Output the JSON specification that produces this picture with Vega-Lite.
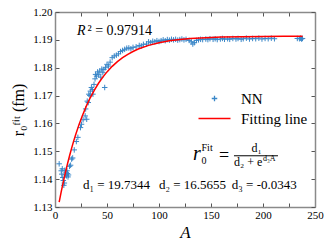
{
  "$schema": "https://vega.github.io/schema/vega-lite/v6.json",
  "width": 260,
  "height": 195,
  "autosize": "none",
  "padding": {"left": 55, "top": 12, "right": 17, "bottom": 42},
  "config": {
    "font": "Liberation Serif",
    "view": {"stroke": null},
    "axis": {
      "grid": false,
      "domainColor": "#8a8a8a",
      "domainWidth": 1.5,
      "tickColor": "#555",
      "tickWidth": 1,
      "tickSize": -4,
      "labelFont": "Liberation Serif",
      "labelFontSize": 11,
      "labelColor": "#000",
      "titleFont": "Liberation Serif",
      "titleColor": "#000",
      "titleFontWeight": "normal"
    }
  },
  "resolve": {"axis": {"x": "independent", "y": "independent"}},
  "layer": [
    {
      "data": {"values": [
        {"A":4,"r":1.1455,"series":"NN"},{"A":6,"r":1.1430,"series":"NN"},{"A":6.5,"r":1.1418,"series":"NN"},{"A":7,"r":1.1437,"series":"NN"},{"A":7.5,"r":1.1406,"series":"NN"},{"A":8,"r":1.1395,"series":"NN"},{"A":8.5,"r":1.1378,"series":"NN"},{"A":9,"r":1.1386,"series":"NN"},{"A":9.5,"r":1.1432,"series":"NN"},{"A":10,"r":1.1418,"series":"NN"},{"A":10.5,"r":1.1425,"series":"NN"},{"A":11,"r":1.1412,"series":"NN"},{"A":11.5,"r":1.1430,"series":"NN"},{"A":12,"r":1.1420,"series":"NN"},{"A":12.5,"r":1.1408,"series":"NN"},{"A":13,"r":1.1415,"series":"NN"},{"A":14,"r":1.1446,"series":"NN"},{"A":15,"r":1.1450,"series":"NN"},{"A":16,"r":1.1472,"series":"NN"},{"A":17,"r":1.1476,"series":"NN"},{"A":18.5,"r":1.1505,"series":"NN"},{"A":20.5,"r":1.1535,"series":"NN"},{"A":22,"r":1.1550,"series":"NN"},{"A":24.5,"r":1.1585,"series":"NN"},{"A":25.5,"r":1.1597,"series":"NN"},{"A":27,"r":1.1613,"series":"NN"},{"A":29,"r":1.1627,"series":"NN"},{"A":29.5,"r":1.1652,"series":"NN"},{"A":30.5,"r":1.1615,"series":"NN"},{"A":31,"r":1.1680,"series":"NN"},{"A":32,"r":1.1675,"series":"NN"},{"A":32.5,"r":1.1705,"series":"NN"},{"A":33.5,"r":1.1700,"series":"NN"},{"A":34,"r":1.1716,"series":"NN"},{"A":35,"r":1.1729,"series":"NN"},{"A":36,"r":1.1722,"series":"NN"},{"A":36.5,"r":1.1705,"series":"NN"},{"A":37.5,"r":1.1740,"series":"NN"},{"A":38.5,"r":1.1760,"series":"NN"},{"A":39,"r":1.1776,"series":"NN"},{"A":40,"r":1.1770,"series":"NN"},{"A":41,"r":1.1785,"series":"NN"},{"A":42,"r":1.1775,"series":"NN"},{"A":43,"r":1.1788,"series":"NN"},{"A":44,"r":1.1766,"series":"NN"},{"A":45,"r":1.1795,"series":"NN"},{"A":46,"r":1.1782,"series":"NN"},{"A":47,"r":1.1794,"series":"NN"},{"A":47.8,"r":1.1729,"series":"NN"},{"A":48.5,"r":1.1800,"series":"NN"},{"A":50,"r":1.1812,"series":"NN"},{"A":51.5,"r":1.1806,"series":"NN"},{"A":53,"r":1.1820,"series":"NN"},{"A":55,"r":1.1836,"series":"NN"},{"A":57,"r":1.1842,"series":"NN"},{"A":59,"r":1.1845,"series":"NN"},{"A":61,"r":1.1850,"series":"NN"},{"A":63,"r":1.1858,"series":"NN"},{"A":65,"r":1.1862,"series":"NN"},{"A":67,"r":1.1866,"series":"NN"},{"A":69,"r":1.1870,"series":"NN"},{"A":71,"r":1.1871,"series":"NN"},{"A":73,"r":1.1868,"series":"NN"},{"A":75,"r":1.1873,"series":"NN"},{"A":78,"r":1.1875,"series":"NN"},{"A":81,"r":1.1880,"series":"NN"},{"A":83,"r":1.1878,"series":"NN"},{"A":85,"r":1.1884,"series":"NN"},{"A":88,"r":1.1885,"series":"NN"},{"A":90,"r":1.1893,"series":"NN"},{"A":92,"r":1.1890,"series":"NN"},{"A":94,"r":1.1895,"series":"NN"},{"A":96,"r":1.1893,"series":"NN"},{"A":98,"r":1.1897,"series":"NN"},{"A":100,"r":1.1894,"series":"NN"},{"A":102,"r":1.1897,"series":"NN"},{"A":104,"r":1.1900,"series":"NN"},{"A":106,"r":1.1897,"series":"NN"},{"A":108,"r":1.1901,"series":"NN"},{"A":110,"r":1.1899,"series":"NN"},{"A":112,"r":1.1902,"series":"NN"},{"A":114,"r":1.1900,"series":"NN"},{"A":116,"r":1.1902,"series":"NN"},{"A":118,"r":1.1899,"series":"NN"},{"A":120,"r":1.1901,"series":"NN"},{"A":122,"r":1.1903,"series":"NN"},{"A":124,"r":1.1900,"series":"NN"},{"A":126,"r":1.1902,"series":"NN"},{"A":129,"r":1.1898,"series":"NN"},{"A":131,"r":1.1893,"series":"NN"},{"A":132.5,"r":1.1885,"series":"NN"},{"A":134,"r":1.1890,"series":"NN"},{"A":136,"r":1.1898,"series":"NN"},{"A":138,"r":1.1900,"series":"NN"},{"A":140,"r":1.1902,"series":"NN"},{"A":142,"r":1.1901,"series":"NN"},{"A":145,"r":1.1903,"series":"NN"},{"A":147,"r":1.1901,"series":"NN"},{"A":149,"r":1.1904,"series":"NN"},{"A":152,"r":1.1902,"series":"NN"},{"A":154,"r":1.1904,"series":"NN"},{"A":156,"r":1.1901,"series":"NN"},{"A":159,"r":1.1903,"series":"NN"},{"A":161,"r":1.1905,"series":"NN"},{"A":163,"r":1.1902,"series":"NN"},{"A":166,"r":1.1904,"series":"NN"},{"A":168,"r":1.1902,"series":"NN"},{"A":171,"r":1.1905,"series":"NN"},{"A":174,"r":1.1903,"series":"NN"},{"A":176,"r":1.1905,"series":"NN"},{"A":179,"r":1.1902,"series":"NN"},{"A":181,"r":1.1904,"series":"NN"},{"A":184,"r":1.1906,"series":"NN"},{"A":187,"r":1.1903,"series":"NN"},{"A":190,"r":1.1905,"series":"NN"},{"A":193,"r":1.1904,"series":"NN"},{"A":196,"r":1.1906,"series":"NN"},{"A":199,"r":1.1903,"series":"NN"},{"A":202,"r":1.1905,"series":"NN"},{"A":205,"r":1.1904,"series":"NN"},{"A":208,"r":1.1906,"series":"NN"},{"A":211,"r":1.1904,"series":"NN"},{"A":233,"r":1.1905,"series":"NN"},{"A":235,"r":1.1904,"series":"NN"},{"A":236,"r":1.1906,"series":"NN"},{"A":237,"r":1.1903,"series":"NN"},{"A":238,"r":1.1905,"series":"NN"}
      ]},
      "mark": {"type": "point", "filled": false, "size": 100, "strokeWidth": 1, "opacity": 1},
      "encoding": {
        "x": {"field": "A", "type": "quantitative", "scale": {"domain": [0, 250], "nice": false},
              "axis": {"orient": "bottom", "values": [0,25,50,75,100,125,150,175,200,225,250], "labelExpr": "datum.value % 50 === 0 ? datum.label : ''", "labelPadding": 6, "title": "A", "titleFontStyle": "italic", "titleFontSize": 17, "titlePadding": 4, "labelFlush": false}},
        "y": {"field": "r", "type": "quantitative", "scale": {"domain": [1.13, 1.2], "nice": false, "zero": false},
              "axis": {"orient": "left", "values": [1.13,1.14,1.15,1.16,1.17,1.18,1.19,1.2], "format": ".2f", "labelPadding": 7, "title": "r₀ᶠⁱᵗ (fm)", "titleFontSize": 16, "titlePadding": 6}},
        "color": {"field": "series", "type": "nominal", "scale": {"domain": ["NN", "Fitting line"], "range": ["#3a87c8", "#ff0000"]},
                  "legend": {"orient": "none", "legendX": 152, "legendY": 79, "title": null, "labelFont": "Liberation Serif", "labelFontSize": 15, "symbolSize": 100, "labelOffset": 19, "rowPadding": 4, "padding": 0, "symbolStrokeWidth": 1.3}},
        "shape": {"field": "series", "type": "nominal", "scale": {"domain": ["NN", "Fitting line"], "range": ["M-0.55,0L0.55,0M0,-0.55L0,0.55", "M-3.2,0L3.2,0"]},
                  "legend": {"orient": "none", "legendX": 152, "legendY": 79, "title": null, "labelFont": "Liberation Serif", "labelFontSize": 15, "symbolSize": 100, "labelOffset": 19, "rowPadding": 4, "padding": 0, "symbolStrokeWidth": 1.3}}
      }
    },
    {
      "data": {"values": [
        {"A":4,"r":1.13173,"series":"Fitting line"},{"A":5,"r":1.13364,"series":"Fitting line"},{"A":6,"r":1.13550,"series":"Fitting line"},{"A":8,"r":1.13904,"series":"Fitting line"},{"A":10,"r":1.14236,"series":"Fitting line"},{"A":12,"r":1.14547,"series":"Fitting line"},{"A":14,"r":1.14841,"series":"Fitting line"},{"A":16,"r":1.15115,"series":"Fitting line"},{"A":18,"r":1.15373,"series":"Fitting line"},{"A":20,"r":1.15614,"series":"Fitting line"},{"A":23,"r":1.15948,"series":"Fitting line"},{"A":26,"r":1.16252,"series":"Fitting line"},{"A":30,"r":1.16613,"series":"Fitting line"},{"A":34,"r":1.16930,"series":"Fitting line"},{"A":38,"r":1.17207,"series":"Fitting line"},{"A":42,"r":1.17450,"series":"Fitting line"},{"A":46,"r":1.17663,"series":"Fitting line"},{"A":50,"r":1.17850,"series":"Fitting line"},{"A":55,"r":1.18049,"series":"Fitting line"},{"A":60,"r":1.18219,"series":"Fitting line"},{"A":65,"r":1.18360,"series":"Fitting line"},{"A":70,"r":1.18482,"series":"Fitting line"},{"A":75,"r":1.18583,"series":"Fitting line"},{"A":80,"r":1.18670,"series":"Fitting line"},{"A":90,"r":1.18803,"series":"Fitting line"},{"A":100,"r":1.18898,"series":"Fitting line"},{"A":110,"r":1.18964,"series":"Fitting line"},{"A":120,"r":1.19013,"series":"Fitting line"},{"A":130,"r":1.19047,"series":"Fitting line"},{"A":140,"r":1.19071,"series":"Fitting line"},{"A":160,"r":1.19100,"series":"Fitting line"},{"A":180,"r":1.19115,"series":"Fitting line"},{"A":200,"r":1.19122,"series":"Fitting line"},{"A":220,"r":1.19126,"series":"Fitting line"},{"A":238,"r":1.19128,"series":"Fitting line"}
      ]},
      "mark": {"type": "line", "strokeWidth": 1.5},
      "encoding": {
        "x": {"field": "A", "type": "quantitative", "axis": {"orient": "top", "values": [0,25,50,75,100,125,150,175,200,225,250], "labels": false, "title": null}},
        "y": {"field": "r", "type": "quantitative", "axis": {"orient": "right", "values": [1.13,1.14,1.15,1.16,1.17,1.18,1.19,1.2], "labels": false, "title": null}},
        "color": {"field": "series", "type": "nominal", "scale": {"domain": ["NN", "Fitting line"], "range": ["#3a87c8", "#ff0000"]},
                  "legend": {"orient": "none", "legendX": 152, "legendY": 79, "title": null, "labelFont": "Liberation Serif", "labelFontSize": 15, "symbolSize": 100, "labelOffset": 19, "rowPadding": 4, "padding": 0, "symbolStrokeWidth": 1.3}}
      }
    },
    {
      "data": {"values": [{}]},
      "mark": {"type": "text", "text": "R", "fontStyle": "italic", "fontSize": 14, "align": "left", "baseline": "alphabetic"},
      "encoding": {"x": {"datum": 21.2, "type": "quantitative", "axis": null}, "y": {"datum": 1.19179, "type": "quantitative", "axis": null}}
    },
    {
      "data": {"values": [{}]},
      "mark": {"type": "text", "text": "² = 0.97914", "fontSize": 14, "align": "left", "baseline": "alphabetic"},
      "encoding": {"x": {"datum": 31.2, "type": "quantitative", "axis": null}, "y": {"datum": 1.19179, "type": "quantitative", "axis": null}}
    },
    {
      "data": {"values": [{}]},
      "mark": {"type": "text", "text": "d₁ = 19.7344", "fontSize": 13, "align": "left", "baseline": "alphabetic"},
      "encoding": {"x": {"datum": 26.9, "type": "quantitative", "axis": null}, "y": {"datum": 1.13643, "type": "quantitative", "axis": null}}
    },
    {
      "data": {"values": [{}]},
      "mark": {"type": "text", "text": "d₂ = 16.5655", "fontSize": 13, "align": "left", "baseline": "alphabetic"},
      "encoding": {"x": {"datum": 100.0, "type": "quantitative", "axis": null}, "y": {"datum": 1.13643, "type": "quantitative", "axis": null}}
    },
    {
      "data": {"values": [{}]},
      "mark": {"type": "text", "text": "d₃ = -0.0343", "fontSize": 13, "align": "left", "baseline": "alphabetic"},
      "encoding": {"x": {"datum": 170.0, "type": "quantitative", "axis": null}, "y": {"datum": 1.13643, "type": "quantitative", "axis": null}}
    },
    {
      "data": {"values": [{}]},
      "mark": {"type": "text", "text": "r", "fontStyle": "italic", "fontSize": 20, "align": "left", "baseline": "alphabetic"},
      "encoding": {"x": {"datum": 132.7, "type": "quantitative", "axis": null}, "y": {"datum": 1.14679, "type": "quantitative", "axis": null}}
    },
    {
      "data": {"values": [{}]},
      "mark": {"type": "text", "text": "Fit", "fontSize": 10, "align": "left", "baseline": "alphabetic"},
      "encoding": {"x": {"datum": 140.9, "type": "quantitative", "axis": null}, "y": {"datum": 1.15018, "type": "quantitative", "axis": null}}
    },
    {
      "data": {"values": [{}]},
      "mark": {"type": "text", "text": "0", "fontSize": 10, "align": "left", "baseline": "alphabetic"},
      "encoding": {"x": {"datum": 140.9, "type": "quantitative", "axis": null}, "y": {"datum": 1.14554, "type": "quantitative", "axis": null}}
    },
    {
      "data": {"values": [{}]},
      "mark": {"type": "text", "text": "=", "fontSize": 18, "align": "left", "baseline": "alphabetic"},
      "encoding": {"x": {"datum": 157.7, "type": "quantitative", "axis": null}, "y": {"datum": 1.14643, "type": "quantitative", "axis": null}}
    },
    {
      "data": {"values": [{}]},
      "mark": {"type": "text", "text": "d₁", "fontSize": 12, "align": "center", "baseline": "alphabetic"},
      "encoding": {"x": {"datum": 193.8, "type": "quantitative", "axis": null}, "y": {"datum": 1.14965, "type": "quantitative", "axis": null}}
    },
    {
      "data": {"values": [{}]},
      "mark": {"type": "rule", "color": "#000", "strokeWidth": 1},
      "encoding": {"x": {"datum": 172.1, "type": "quantitative", "axis": null}, "x2": {"datum": 214.4}, "y": {"datum": 1.14839, "type": "quantitative", "axis": null}}
    },
    {
      "data": {"values": [{}]},
      "mark": {"type": "text", "text": "d₂ + e", "fontSize": 12, "align": "left", "baseline": "alphabetic"},
      "encoding": {"x": {"datum": 172.1, "type": "quantitative", "axis": null}, "y": {"datum": 1.14480, "type": "quantitative", "axis": null}}
    },
    {
      "data": {"values": [{}]},
      "mark": {"type": "text", "text": "d₃A", "fontSize": 8, "align": "left", "baseline": "alphabetic"},
      "encoding": {"x": {"datum": 200.0, "type": "quantitative", "axis": null}, "y": {"datum": 1.14650, "type": "quantitative", "axis": null}}
    }
  ]
}
